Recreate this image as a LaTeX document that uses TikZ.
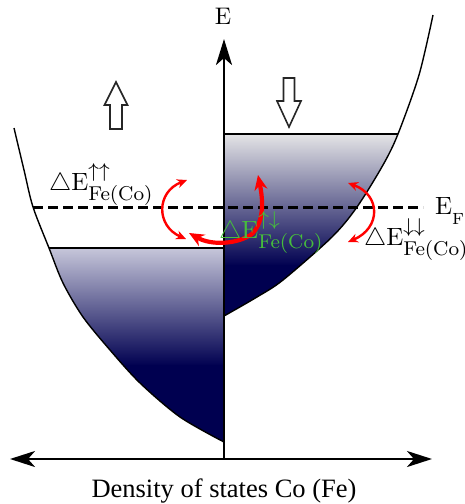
\documentclass[tikz,border=0pt]{standalone}
\usepackage{graphicx}
\usepackage{fontspec}
\newfontfamily\timesf{Liberation Serif}
\usetikzlibrary{arrows.meta}
\newcommand{\myfs}[2]{{\fontsize{#1}{#1}\selectfont #2}}
\newcommand{\dlabel}[1]{\scalebox{2.5}{$\triangle\mathrm{E}^{\hbox{\myfs{8}{$#1$}}}_{\hbox{\myfs{8}{Fe(Co)}}}$}}
\definecolor{navy}{RGB}{0,0,80}
\definecolor{lavtop}{RGB}{198,198,218}
\definecolor{graytop}{RGB}{228,228,230}
\definecolor{lblgreen}{RGB}{70,190,60}
\tikzset{
  bandcurve/.style={line width=1.4pt, black},
  axisline/.style={line width=2.6pt, black},
  blockarr/.style={line width=1.6pt, draw=black!85, fill=white, line join=miter},
  redthin/.style={red, line width=2.4pt, {Stealth[length=10pt,width=9pt]}-{Stealth[length=10pt,width=9pt]}},
  redthick/.style={red, line width=4.2pt, {Stealth[length=15pt,width=13pt]}-{Stealth[length=15pt,width=13pt]}},
  lbl/.style={anchor=base west, inner sep=0pt},
}
\begin{document}
\begin{tikzpicture}[x=1pt,y=-1pt]
\useasboundingbox (0,0) rectangle (464,504);
% coordinates
\coordinate (ax0) at (224,459);
\coordinate (axtop) at (224,39);
\coordinate (hl) at (10,459);
\coordinate (hr) at (432,459);
% left band fill
\begin{scope}
  \clip plot[smooth] coordinates {(14,128) (24,170) (33,207) (49,248) (63,283) (83,317) (110,350) (140,383) (180,417) (224,442)} -- (224,128) -- cycle;
  \shade[top color=lavtop, bottom color=navy] (0,248) rectangle (224,366);
  \fill[navy] (0,365) rectangle (224,460);
\end{scope}
% right band fill
\begin{scope}
  \clip plot[smooth] coordinates {(433,15) (419,75) (398,134) (383,165) (357,207) (332,237) (283,280) (257,297) (224,316)} -- (224,15) -- cycle;
  \shade[top color=graytop, bottom color=navy] (224,134) rectangle (450,266);
  \fill[navy] (224,265) rectangle (450,320);
\end{scope}
% band curves
\draw[bandcurve] plot[smooth] coordinates {(14,128) (24,170) (33,207) (49,248) (63,283) (83,317) (110,350) (140,383) (180,417) (224,442)};
\draw[bandcurve] plot[smooth] coordinates {(433,15) (419,75) (398,134) (383,165) (357,207) (332,237) (283,280) (257,297) (224,316)};
\draw[bandcurve, line width=1.8pt] (49,248) -- (224,248);
\draw[bandcurve, line width=1.8pt] (224,134) -- (398,134);
% axes
\draw[axisline, -{Stealth[length=26pt,width=16pt,inset=7pt]}] (ax0) -- (axtop);
\draw[axisline, {Stealth[length=25pt,width=16pt,inset=7pt]}-{Stealth[length=25pt,width=16pt,inset=7pt]}] (hl) -- (hr);
% Fermi level
\draw[line width=3pt, dash pattern=on 10pt off 5pt] (33,207) -- (423,207);
% block arrows
\draw[blockarr] (110,129) -- (110,105) -- (104.5,105) -- (116,82) -- (127.5,105) -- (122,105) -- (122,129) -- cycle;
\draw[blockarr] (283.5,78) -- (283.5,101) -- (277,101) -- (289,127) -- (301,101) -- (294.5,101) -- (294.5,78) -- cycle;
% red arrows
\coordinate (la) at (187,180);
\coordinate (lb) at (186,239);
\coordinate (ba) at (189,233);
\coordinate (bm) at (252,234);
\coordinate (bb) at (258,175);
\coordinate (ra) at (348,183);
\coordinate (rb) at (348,242);
\draw[redthin] (la) .. controls (156,192) and (156,226) .. (lb);
\draw[redthick] (ba) .. controls (212,246) and (238,244) .. (bm) .. controls (266,220) and (262,195) .. (bb);
\draw[redthin] (ra) .. controls (381,195) and (381,228) .. (rb);
% labels
\node (elab) at (223,16) {\scalebox{2.4}{E}};
\node[lbl] (eflab) at (435,214) {\scalebox{2.5}{$\mathrm{E}_{\lower2.6pt\hbox{\myfs{6.5}{F}}}$}};
\node[lbl] (luu) at (49,190) {\dlabel{\uparrow\uparrow}};
\node[lbl, text=lblgreen] (lud) at (219,238) {\dlabel{\uparrow\downarrow}};
\node[lbl] (ldd) at (364,245) {\dlabel{\downarrow\downarrow}};
\node[anchor=base] (dlab) at (224,497) {\timesf\myfs{26.5}{Density of states Co (Fe)}};
\end{tikzpicture}
\end{document}
